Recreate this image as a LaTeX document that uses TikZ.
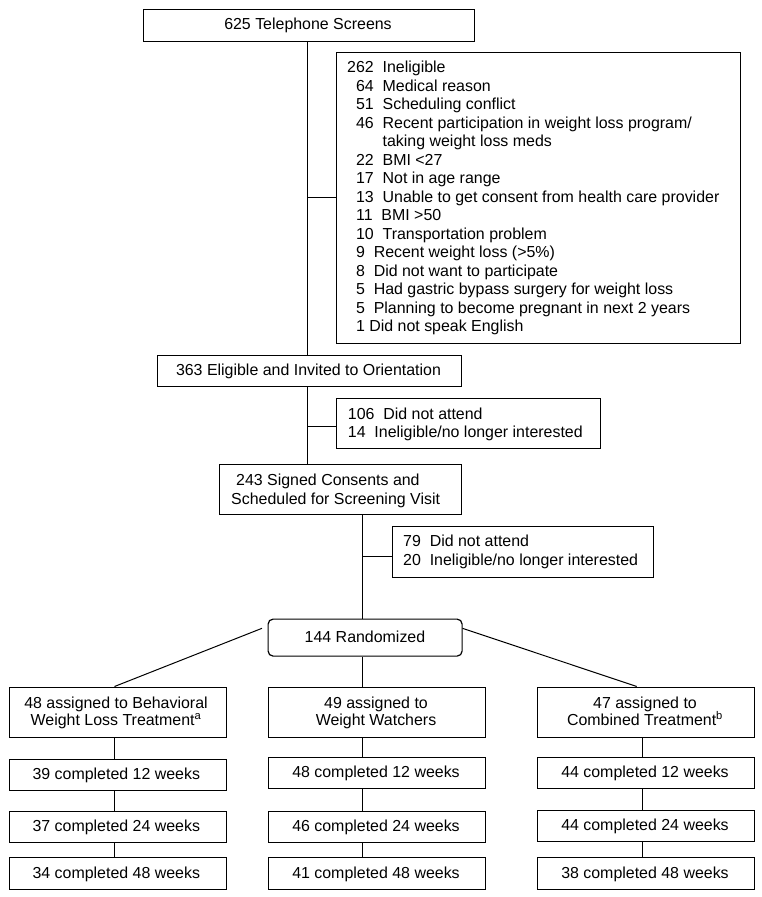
\documentclass[tikz,border=0pt]{standalone}
\usepackage{fontspec}
\setmainfont{Liberation Sans}
\newcommand{\tsp}{\hspace{8.9pt}}
\newcommand{\dg}{\hphantom{0}}
\begin{document}
\begin{tikzpicture}[x=1bp,y=-1bp,
  box/.style={draw, line width=1.2bp, inner sep=0pt, anchor=north west},
  txt/.style={inner sep=0pt, font=\fontsize{16}{18.4}\selectfont, anchor=base},
  txtl/.style={txt, anchor=base west},
  link/.style={line width=1bp}]
\fill[white] (0,0) rectangle (762,897);
\useasboundingbox (0,0) rectangle (762,897);

% ---------- boxes ----------
\node[box, minimum width=331bp, minimum height=32bp] (top) at (142.5,8.5) {};
\node[box, minimum width=404bp, minimum height=291bp] (inel) at (335.5,51.5) {};
\node[box, minimum width=304bp, minimum height=31bp] (elig) at (156.5,354.5) {};
\node[box, minimum width=264bp, minimum height=50bp] (att1) at (335.5,397.5) {};
\node[box, minimum width=242bp, minimum height=50bp] (signed) at (218.5,463.5) {};
\node[box, minimum width=261bp, minimum height=51bp] (att2) at (391.5,525.5) {};
\node[box, rounded corners=5bp, minimum width=194bp, minimum height=37bp] (rand) at (267.5,618.5) {};

\node[box, minimum width=217bp, minimum height=50bp] (A0) at (8.5,686.5) {};
\node[box, minimum width=217bp, minimum height=50bp] (B0) at (267.5,686.5) {};
\node[box, minimum width=217bp, minimum height=50bp] (C0) at (536.5,686.5) {};

\node[box, minimum width=217bp, minimum height=31bp] (A1) at (8.5,758.5) {};
\node[box, minimum width=217bp, minimum height=31bp] (A2) at (8.5,810.5) {};
\node[box, minimum width=217bp, minimum height=32bp] (A3) at (8.5,856.5) {};
\node[box, minimum width=217bp, minimum height=31bp] (B1) at (267.5,756.5) {};
\node[box, minimum width=217bp, minimum height=31bp] (B2) at (267.5,810.5) {};
\node[box, minimum width=217bp, minimum height=32bp] (B3) at (267.5,856.5) {};
\node[box, minimum width=217bp, minimum height=31bp] (C1) at (536.5,756.5) {};
\node[box, minimum width=217bp, minimum height=31bp] (C2) at (536.5,809.5) {};
\node[box, minimum width=217bp, minimum height=32bp] (C3) at (536.5,856.5) {};

% ---------- texts ----------
\node[txt] (ttop) at (308,29.8) {625 Telephone Screens};

\node[txtl] (i0) at (347,72.7) {262\tsp Ineligible};
\node[txtl] (i1) at (347,91.2) {\dg 64\tsp Medical reason};
\node[txtl] (i2) at (347,109.7) {\dg 51\tsp Scheduling conflict};
\node[txtl] (i3) at (347,128.2) {\dg 46\tsp Recent participation in weight loss program/};
\node[txtl] (i4) at (347,146.7) {\dg\dg\dg\tsp taking weight loss meds};
\node[txtl] (i5) at (347,165.2) {\dg 22\tsp BMI <27};
\node[txtl] (i6) at (347,183.7) {\dg 17\tsp Not in age range};
\node[txtl] (i7) at (347,202.2) {\dg 13\tsp Unable to get consent from health care provider};
\node[txtl] (i8) at (347,220.7) {\dg 11\tsp BMI >50};
\node[txtl] (i9) at (347,239.2) {\dg 10\tsp Transportation problem};
\node[txtl] (i10) at (347,257.7) {\dg 9\tsp Recent weight loss (>5\%)};
\node[txtl] (i11) at (347,276.2) {\dg 8\tsp Did not want to participate};
\node[txtl] (i12) at (347,294.7) {\dg 5\tsp Had gastric bypass surgery for weight loss};
\node[txtl] (i13) at (347,313.2) {\dg 5\tsp Planning to become pregnant in next 2 years};
\node[txtl] (i14) at (347,331.7) {\dg 1 Did not speak English};

\node[txt] (telig) at (308.5,375.3) {363 Eligible and Invited to Orientation};

\node[txtl] (ta1) at (347.7,419.1) {106\tsp Did not attend};
\node[txtl] (ta2) at (347.7,437.4) {14\tsp Ineligible/no longer interested};

\node[txtl] (ts1) at (236,485.8) {243 Signed Consents and};
\node[txtl] (ts2) at (231,504.1) {Scheduled for Screening Visit};

\node[txtl] (tb1) at (403,546.8) {79\tsp Did not attend};
\node[txtl] (tb2) at (403,565.1) {20\tsp Ineligible/no longer interested};

\node[txt] (trand) at (365,642.7) {144 Randomized};

\node[txt] (tA0a) at (116,708) {48 assigned to Behavioral};
\node[txt] (tA0b) at (116,725.8) {Weight Loss Treatment\textsuperscript{a}};
\node[txt] (tB0a) at (376,708) {49 assigned to};
\node[txt] (tB0b) at (376,725.8) {Weight Watchers};
\node[txt] (tC0a) at (645,708) {47 assigned to};
\node[txt] (tC0b) at (645,725.8) {Combined Treatment\textsuperscript{b}};

\node[txt] (tA1) at (116.3,779.9) {39 completed 12 weeks};
\node[txt] (tA2) at (116.3,831.6) {37 completed 24 weeks};
\node[txt] (tA3) at (116.3,878.3) {34 completed 48 weeks};
\node[txt] (tB1) at (376,777.4) {48 completed 12 weeks};
\node[txt] (tB2) at (376,831.3) {46 completed 24 weeks};
\node[txt] (tB3) at (376,878.3) {41 completed 48 weeks};
\node[txt] (tC1) at (645,777.4) {44 completed 12 weeks};
\node[txt] (tC2) at (645,830.8) {44 completed 24 weeks};
\node[txt] (tC3) at (645,878.3) {38 completed 48 weeks};

% ---------- helper coordinates ----------
\coordinate (tx) at (307.5,0);
\coordinate (tx3) at (362.5,0);
\coordinate (b1) at (307.5,426.5);
\coordinate (b2) at (362.5,556.5);
\coordinate (rl) at (262,628.3);
\coordinate (rr) at (462.5,628.3);
\coordinate (ax) at (114.5,0);
\coordinate (cx) at (642.5,0);
\coordinate (cxl) at (636.7,0);

% ---------- connectors ----------
\draw[link] (top.south -| tx) -- (elig.north -| tx);
\draw[link] (tx |- inel.west) -- (inel.west);
\draw[link] (elig.south -| tx) -- (signed.north -| tx);
\draw[link] (b1) -- (b1 -| att1.west);
\draw[link] (signed.south -| tx3) -- (rand.north -| tx3);
\draw[link] (b2) -- (b2 -| att2.west);
\draw[link] (rl) -- (A0.north -| ax);
\draw[link] (rr) -- (C0.north -| cxl);
\draw[link] (rand.south -| tx3) -- (B0.north -| tx3);

\draw[link] (A0.south -| ax) -- (A1.north -| ax);
\draw[link] (A1.south -| ax) -- (A2.north -| ax);
\draw[link] (A2.south -| ax) -- (A3.north -| ax);
\draw[link] (B0.south -| tx3) -- (B1.north -| tx3);
\draw[link] (B1.south -| tx3) -- (B2.north -| tx3);
\draw[link] (B2.south -| tx3) -- (B3.north -| tx3);
\draw[link] (C0.south -| cx) -- (C1.north -| cx);
\draw[link] (C1.south -| cx) -- (C2.north -| cx);
\draw[link] (C2.south -| cx) -- (C3.north -| cx);
\end{tikzpicture}
\end{document}
